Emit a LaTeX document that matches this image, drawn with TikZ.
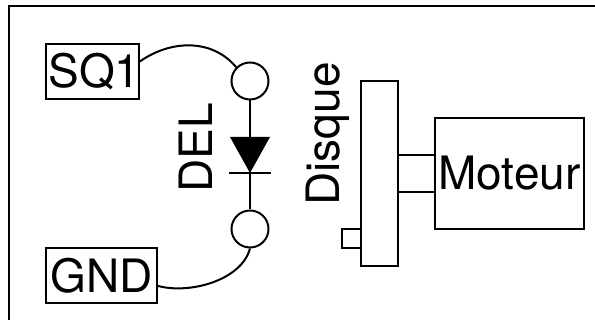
\documentclass[tikz,border=0pt]{standalone}
\usepackage{fontspec}
\setmainfont{TeX Gyre Heros}
\usepackage{tikz}

\tikzset{
  boite/.style={draw, line width=2pt, inner sep=0pt, font=\fontsize{46}{46}\selectfont},
  rond/.style={circle, draw, line width=2pt, inner sep=0pt, minimum size=37pt},
  vide/.style={draw, line width=2pt, inner sep=0pt},
  titre/.style={rotate=90, inner sep=0pt, font=\fontsize{46}{46}\selectfont}
}

\begin{document}
\begin{tikzpicture}[x=1pt, y=1pt, line width=2pt]
\useasboundingbox (0,0) rectangle (595,320);
\coordinate (hautdroit) at (595,314);
\coordinate (hautgauche) at (9,314);
\coordinate (basgauche) at (9,0);
\coordinate (pointe) at (250,147);
\coordinate (ga) at (230,183);
\coordinate (dr) at (270,183);
\coordinate (barreg) at (229,147);
\coordinate (barred) at (271,147);
% draws frame
\draw (basgauche) -- (hautgauche) -- (hautdroit);
% draws boxes
\node[boite, minimum width=93pt, minimum height=55pt] (sq1) at (92.5,248.5) {\kern2pt SQ1\kern-2pt};
\node[boite, minimum width=111pt, minimum height=55pt] (gnd) at (101.5,44) {GND};
\node[vide, minimum width=37pt, minimum height=185pt] (disque) at (379.5,146.5) {};
\node[vide, minimum width=19pt, minimum height=19pt] (ergot) at (351.5,81.5) {};
\node[vide, minimum width=37pt, minimum height=37pt] (axe) at (416.5,146.5) {};
\node[boite, minimum width=149pt, minimum height=111pt] (moteur) at (509.5,146.5) {Moteur};
% draws contacts
\node[rond] (haut) at (250,239) {};
\node[rond] (bas) at (250,91) {};
% labels
\node[titre] (del) at (196,172) {DEL};
\node[titre] (dis) at (328,186) {Disque};
% draws wires
\draw (haut) -- (bas);
\draw (sq1.12) to[out=35, in=130] (haut.135);
\draw (gnd.-10) to[out=-15, in=-105, looseness=0.85] (bas.south);
% draws diode
\fill (ga) -- (dr) -- (pointe) -- cycle;
\draw (barreg) -- (barred);
\end{tikzpicture}
\end{document}
